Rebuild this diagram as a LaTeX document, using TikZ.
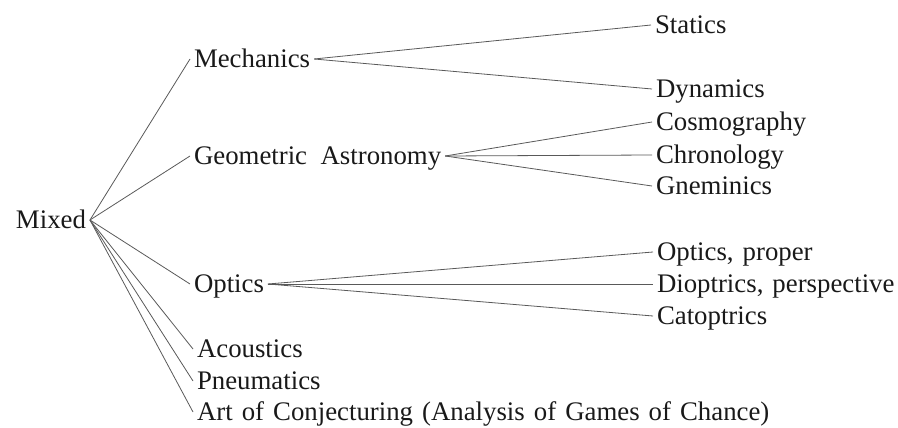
\documentclass[tikz,border=0pt]{standalone}
\usepackage{fontspec}
\setmainfont{Liberation Serif}[WordSpace=1.35]
\begin{document}
\begin{tikzpicture}[x=1pt,y=-1pt,
  lbl/.style={anchor=west,inner sep=0pt,outer sep=4pt,text height=17.5pt,text depth=0pt,
    font=\fontsize{26.8}{30}\selectfont,text=black!90},
  branch/.style={draw=black!65,line width=0.8pt}]
\useasboundingbox (0,0) rectangle (898,428);
\node[lbl] (mixed) at (12,220) {Mixed};
\node[lbl] (mech) at (190,59) {Mechanics};
\node[lbl] (geo) at (190,156) {Geometric\, Astronomy};
\node[lbl] (opt) at (190,284) {Optics};
\node[lbl] (aco) at (193,349) {Acoustics};
\node[lbl] (pneu) at (193,381) {Pneumatics};
\node[lbl] (art) at (193,412) {Art of Conjecturing (Analysis of Games of Chance)};
\node[lbl] (stat) at (651,25) {Statics};
\node[lbl] (dyn) at (652,89) {Dynamics};
\node[lbl] (cosmo) at (652,122) {Cosmography};
\node[lbl] (chrono) at (652,155) {Chronology};
\node[lbl] (gnem) at (652,186) {Gneminics};
\node[lbl] (optp) at (653,252) {Optics, proper};
\node[lbl] (diop) at (653,284) {Dioptrics, perspective};
\node[lbl] (cato) at (653,316) {Catoptrics};
\foreach \t in {mech,geo,opt,aco,pneu,art} \draw[branch] (mixed.east) -- (\t.west);
\foreach \t in {stat,dyn} \draw[branch] (mech.east) -- (\t.west);
\foreach \t in {cosmo,chrono,gnem} \draw[branch] (geo.east) -- (\t.west);
\foreach \t in {optp,diop,cato} \draw[branch] (opt.east) -- (\t.west);
\end{tikzpicture}
\end{document}
